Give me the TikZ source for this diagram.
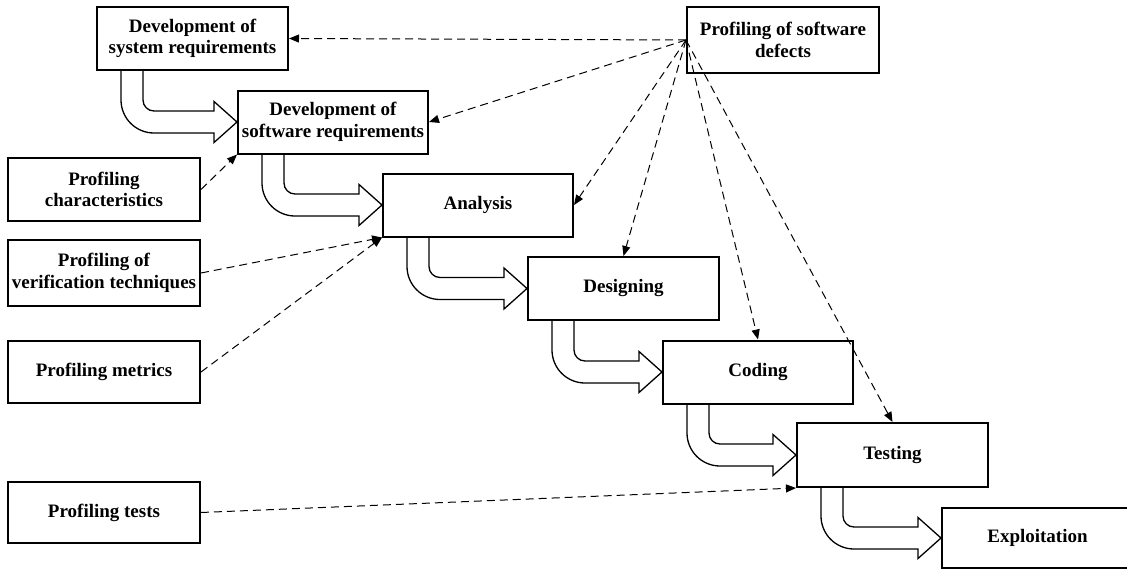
\documentclass[tikz,border=0pt]{standalone}
\usepackage{fontspec}
\setmainfont{Liberation Serif}
\usepackage{tikz}
\usetikzlibrary{arrows.meta, calc, backgrounds}

\begin{document}
\begin{tikzpicture}[
  x=1pt, y=-1pt,
  box/.style={draw, line width=2pt, fill=white, align=center,
              font=\fontsize{19}{21.7}\selectfont\bfseries, inner sep=2pt,
              minimum width=#1, minimum height=63pt},
  box/.default=191pt,
  stage/.style={draw, fill=white, line width=1.3pt, line join=miter},
  prof/.style={-{Triangle[length=10pt, width=8pt]}, dashed,
               dash pattern=on 8pt off 5pt, line width=1pt}
]
\useasboundingbox (0,0) rectangle (1127,570);
\clip (0,0) rectangle (1127,570);

%% ── Life-cycle stages (staircase)
\node[box]                    (sysreq)    at (192.5, 38.5) {Development of\\system requirements};
\node[box=190pt]              (swreq)     at (333, 122)    {Development of\\software requirements};
\node[box=190pt]              (analysis)  at (478, 205)    {Analysis};
\node[box]                    (designing) at (623.5, 288.5){Designing};
\node[box=190pt]              (coding)    at (758, 372)    {Coding};
\node[box, minimum height=64pt] (testing) at (892.5, 455)  {Testing};
\node[box, minimum height=60pt] (exploit) at (1037.5, 538) {Exploitation};

%% ── Profiling boxes
\node[box=192pt, minimum height=66pt] (defects) at (783, 40)    {Profiling of software\\defects};
\node[box=192pt]                      (charact) at (104, 189.5) {Profiling\\characteristics};
\node[box=192pt, minimum height=66pt] (verif)   at (104, 273)   {Profiling of\\verification techniques};
\node[box=192pt, minimum height=62pt] (metrics) at (104, 372)   {Profiling metrics};
\node[box=192pt, minimum height=61pt] (tests)   at (104, 512.5) {Profiling tests};

%% ── Hollow bent arrows between stages
\begin{scope}[on background layer]
\foreach \src/\dst in {sysreq/swreq, swreq/analysis, analysis/designing,
                       designing/coding, coding/testing, testing/exploit}{
  \draw[stage] let \p1=(\src.south west), \p2=(\dst.west) in
    ({\x1+25pt},\y1) -- ({\x1+25pt},{\y2+22pt})
    arc[start angle=180, end angle=270, radius=33pt]
    -- ({\x2-23pt},{\y2-11pt}) -- ({\x2-23pt},{\y2-20.5pt}) -- (\x2,\y2)
    -- ({\x2-23pt},{\y2+20.5pt}) -- ({\x2-23pt},{\y2+11pt})
    -- ({\x1+58pt},{\y2+11pt})
    arc[start angle=270, end angle=180, radius=11pt]
    -- ({\x1+47pt},\y1);
}
\end{scope}

%% ── Defect profiling feeds every stage up to testing
\foreach \t in {sysreq.east, swreq.east, analysis.east, designing.north,
                coding.north, testing.north}
  \draw[prof] (defects.west) -- (\t);

%% ── Left-hand profiling inputs
\draw[prof] (charact.east) -- (swreq.south west);
\draw[prof] (verif.east)   -- (analysis.south west);
\draw[prof] (metrics.east) -- (analysis.south west);
\draw[prof] (tests.east)   -- (testing.south west);

\end{tikzpicture}
\end{document}
